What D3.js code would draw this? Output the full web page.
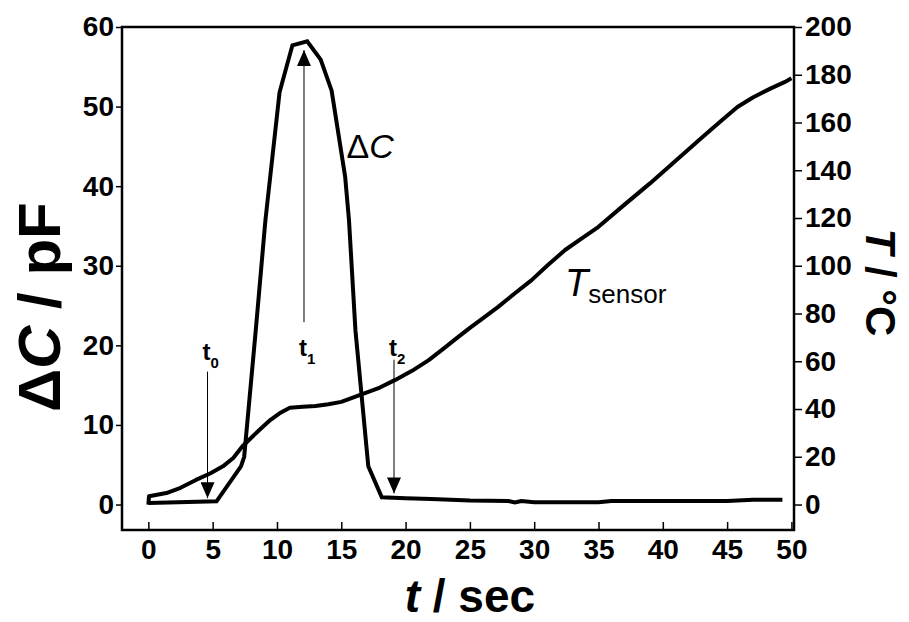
<!DOCTYPE html>
<html>
<head>
<meta charset="utf-8">
<script src="https://cdn.jsdelivr.net/npm/d3@7"></script>
<style>
  body { margin: 0; background: #fff; }
  svg text { font-family: "Liberation Sans", Arial, Helvetica, sans-serif; fill: #000; }
</style>
</head>
<body>
<svg id="chart" width="909" height="622"></svg>
<script>
// capacitance change, pF
var c_time = [0, 5.3, 7.2, 7.45, 8.35, 9.1, 10.2, 11.2, 12.35, 13.4, 14.25, 15.3, 15.6, 16.1, 17.1, 18.15, 20, 22, 25, 28, 28.5, 29, 30, 35, 36, 45, 47, 49.3]
var c_val  = [0.2, 0.4, 4.8, 6.0, 21.9, 35.7, 51.8, 57.7, 58.2, 55.9, 52.0, 41.2, 35.7, 21.9, 4.8, 0.9, 0.8, 0.7, 0.5, 0.45, 0.25, 0.45, 0.3, 0.3, 0.45, 0.45, 0.6, 0.6]

// sensor temperature, deg C
var temp_time = [0, 0.05, 1.4, 2.5, 3.7, 4.8, 5.8, 6.6, 7.3, 8.1, 8.9, 9.5, 10.2, 11, 12, 13, 14, 15, 16, 17, 18, 19.2, 20.5, 21.8, 23, 24, 25, 26, 27.2, 28.5, 29.8, 31, 32.4, 33.7, 35, 37, 39, 41, 43, 44.5, 45.8, 47, 48.4, 49.5, 50]
var temp_val  = [0, 3.5, 4.8, 7, 10.3, 13, 16, 19.5, 24.3, 28.5, 32.6, 35.5, 38.2, 40.5, 41, 41.3, 42, 43, 45, 47, 49, 52.2, 56, 60.5, 65.5, 69.8, 74, 78, 82.8, 88.5, 94, 100, 106.6, 111.5, 116.3, 125.5, 134.5, 144, 153.5, 160.5, 166.5, 170.5, 174.3, 177, 178.5]

var x_ticks = [0, 5, 10, 15, 20, 25, 30, 35, 40, 45, 50]
var left_ticks = [0, 10, 20, 30, 40, 50, 60]
var right_ticks = [0, 20, 40, 60, 80, 100, 120, 140, 160, 180, 200]

// arrows: time, label subscript, arrow start / tip (pF), label baseline (pF)
var marker_time = [4.6, 12.1, 19.1]
var marker_sub = ["0", "1", "2"]
var marker_from = [16.7, 22.9, 18.2]
var marker_to = [0.8, 57.1, 1.4]
var marker_label = [18.1, 18.7, 18.7]

var margin = {top: 27, right: 115, bottom: 92, left: 122}
var width = 909 - margin.left - margin.right
var height = 622 - margin.top - margin.bottom

var svg = d3.select("#chart")
var g = svg.append("g").attr("transform", "translate(" + margin.left + "," + margin.top + ")")

var x = d3.scaleLinear().domain([-2.05, 50.2]).range([0, width])
var y_left = d3.scaleLinear().domain([-3.2, 60]).range([height, 0])
var y_right = d3.scaleLinear().domain([-3.2 * 10 / 3, 200]).range([height, 0])

svg.append("defs").append("marker")
    .attr("id", "head")
    .attr("viewBox", "0 0 16 14")
    .attr("refX", 16)
    .attr("refY", 7)
    .attr("markerWidth", 16)
    .attr("markerHeight", 14)
    .attr("markerUnits", "userSpaceOnUse")
    .attr("orient", "auto")
    .append("path")
    .attr("d", "M0,0 L16,7 L0,14 Z")
    .attr("fill", "#000")

// axes
var x_axis = g.append("g")
    .attr("transform", "translate(0," + height + ")")
    .call(d3.axisBottom(x).tickValues(x_ticks).tickSizeInner(-8).tickSizeOuter(0).tickPadding(9))
var left_axis = g.append("g")
    .call(d3.axisLeft(y_left).tickValues(left_ticks).tickSizeInner(6).tickSizeOuter(0).tickPadding(2))
var right_axis = g.append("g")
    .attr("transform", "translate(" + width + ",0)")
    .call(d3.axisRight(y_right).tickValues(right_ticks).tickSizeInner(8).tickSizeOuter(0).tickPadding(3))

;[x_axis, left_axis, right_axis].forEach(function(a){
    a.select(".domain").remove()
    a.selectAll("line").attr("stroke", "#000").attr("stroke-width", 1.5)
    a.selectAll("text").attr("font-size", 28).attr("font-weight", "bold").attr("fill", "#000")
})

g.append("rect")
    .attr("width", width)
    .attr("height", height)
    .attr("fill", "none")
    .attr("stroke", "#000")
    .attr("stroke-width", 2.5)

// curves
var c_line = d3.line()
    .x(function(d, i){ return x(c_time[i]) })
    .y(function(d){ return y_left(d) })
var t_line = d3.line()
    .x(function(d, i){ return x(temp_time[i]) })
    .y(function(d){ return y_right(d) })

g.append("path")
    .attr("d", t_line(temp_val))
    .attr("fill", "none")
    .attr("stroke", "#000")
    .attr("stroke-width", 4)
    .attr("stroke-linejoin", "round")

g.append("path")
    .attr("d", c_line(c_val))
    .attr("fill", "none")
    .attr("stroke", "#000")
    .attr("stroke-width", 4)
    .attr("stroke-linejoin", "miter")

// time markers
var markers = g.selectAll(".marker").data(marker_time).enter().append("g").attr("class", "marker")
markers.append("line")
    .attr("x1", function(d){ return x(d) })
    .attr("x2", function(d){ return x(d) })
    .attr("y1", function(d, i){ return y_left(marker_from[i]) })
    .attr("y2", function(d, i){ return y_left(marker_to[i]) })
    .attr("stroke", "#000")
    .attr("stroke-width", 1)
    .attr("marker-end", "url(#head)")
var mlab = markers.append("text")
    .attr("x", function(d){ return x(d) - 5 })
    .attr("y", function(d, i){ return y_left(marker_label[i]) })
    .attr("font-size", 24)
    .attr("font-weight", "bold")
mlab.append("tspan").text("t")
mlab.append("tspan").attr("dy", 8).attr("font-size", 15).text(function(d, i){ return marker_sub[i] })

// curve labels
var dc = g.append("text")
    .attr("x", x(15.4))
    .attr("y", y_left(43.6))
    .attr("font-size", 34)
dc.append("tspan").text("\u0394")
dc.append("tspan").attr("font-style", "italic").text("C")

var ts = g.append("text")
    .attr("x", x(32.4))
    .attr("y", y_right(87.5))
    .attr("font-size", 38)
ts.append("tspan").attr("font-style", "italic").text("T")
ts.append("tspan").attr("dy", 7).attr("font-size", 26).text("sensor")

// axis titles
var xt = svg.append("text")
    .attr("x", margin.left + x(25))
    .attr("y", 612)
    .attr("text-anchor", "middle")
    .attr("font-size", 46)
    .attr("font-weight", "bold")
xt.append("tspan").attr("font-style", "italic").text("t")
xt.append("tspan").text(" / sec")

var yl = svg.append("text")
    .attr("transform", "translate(60," + (margin.top + y_left(24.8)) + ") rotate(-90)")
    .attr("text-anchor", "middle")
    .attr("font-size", 60)
    .attr("font-weight", "bold")
yl.append("tspan").text("\u0394")
yl.append("tspan").attr("font-style", "italic").text("C")
yl.append("tspan").text(" / pF")

var yr = svg.append("text")
    .attr("transform", "translate(866," + (margin.top + y_right(93)) + ") rotate(90)")
    .attr("text-anchor", "middle")
    .attr("font-size", 42)
    .attr("font-weight", "bold")
yr.append("tspan").attr("font-style", "italic").text("T")
yr.append("tspan").text(" / \u00B0C")
</script>
</body>
</html>
